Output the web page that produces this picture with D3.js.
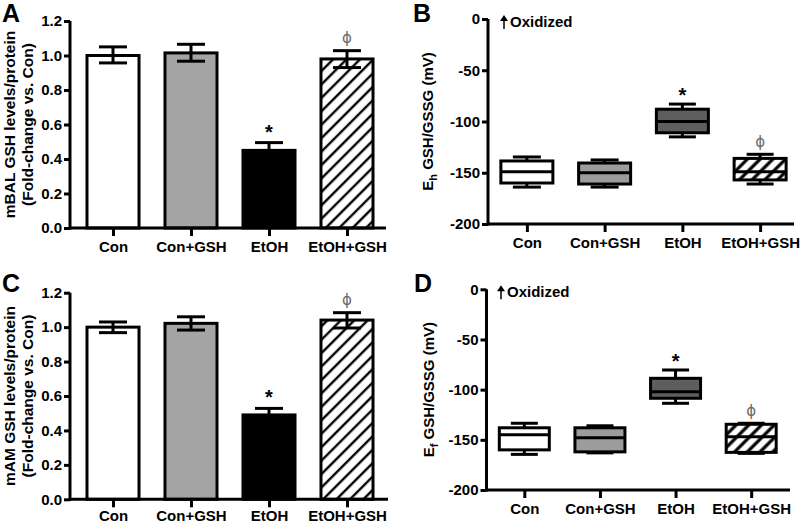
<!DOCTYPE html>
<html><head><meta charset="utf-8">
<script src="https://cdn.jsdelivr.net/npm/d3@7"></script>
<style>body{margin:0;background:#fff}svg{display:block;font-family:Arial,"Liberation Sans",sans-serif;font-weight:bold}</style>
</head><body><svg id="c" width="800" height="523"></svg>
<script>
const categories = ["Con","Con+GSH","EtOH","EtOH+GSH"];
// Panel A: mBAL GSH (fold change) mean, upper error, lower error
const barA_mean = [1.00, 1.015, 0.45, 0.98];
const barA_hi   = [1.05, 1.065, 0.495, 1.028];
const barA_lo   = [0.957, 0.967, null, 0.93];
// Panel C: mAM GSH
const barC_mean = [1.00, 1.022, 0.49, 1.041];
const barC_hi   = [1.03, 1.06, 0.528, 1.084];
const barC_lo   = [0.968, 0.983, null, 0.995];
// Panel B: Eh box stats [whiskerLow, Q1, median, Q3, whiskerHigh]
const boxB = [[-164,-160,-149,-138.5,-134.6],[-164,-161,-150,-140.5,-137.5],[-115,-111,-100,-88,-83],[-161,-157,-149,-136,-132]];
// Panel D
const boxD = [[-164.5,-160,-145,-138,-133.5],[-163,-162,-148,-138,-136],[-113.6,-108.6,-102,-88.7,-80.4],[-163.5,-162.5,-147,-134.5,-133.5]];
const barTicks = [0,0.2,0.4,0.6,0.8,1.0,1.2];
const boxTicks = [0,-50,-100,-150,-200];
const sigStar = [false,false,true,false];
const sigPhi = [false,false,false,true];

const fills = ["#ffffff","#a4a4a4","#000000","url(#hatchBar)"];
const boxFills = ["#ffffff","#9c9c9c","#5e5e5e","url(#hatchBox)"];

const svg = d3.select("#c");
const defs = svg.append("defs");
const pb = defs.append("pattern").attr("id","hatchBar").attr("patternUnits","userSpaceOnUse")
  .attr("width",9.5).attr("height",9.5).attr("patternTransform","rotate(45)");
pb.append("rect").attr("width",9.5).attr("height",9.5).attr("fill","#fff");
pb.append("line").attr("x1",2).attr("x2",2).attr("y1",0).attr("y2",9.5).attr("stroke","#000").attr("stroke-width",2.4);
const px = defs.append("pattern").attr("id","hatchBox").attr("patternUnits","userSpaceOnUse")
  .attr("width",9).attr("height",9).attr("patternTransform","rotate(45)");
px.append("rect").attr("width",9).attr("height",9).attr("fill","#fff");
px.append("line").attr("x1",2).attr("x2",2).attr("y1",0).attr("y2",9).attr("stroke","#000").attr("stroke-width",3.2);

function panelLabel(t,x,y){svg.append("text").attr("x",x).attr("y",y).attr("font-size",25).text(t);}

function phi(g,cx,cy){
  g.append("text").attr("x",cx).attr("y",cy).attr("text-anchor","middle").attr("font-size",15)
   .attr("font-weight","normal").attr("font-family","DejaVu Sans").attr("fill","#6a6a6a").text("ϕ");
}

function axes(g,x,y,x0,x1,ticks,fmt,pad){
  const ya = d3.axisLeft(y).tickValues(ticks).tickFormat(fmt).tickSize(6).tickPadding(2);
  const gy = g.append("g").attr("transform",`translate(${x0},0)`).call(ya);
  gy.select(".domain").remove();
  gy.append("line").attr("x1",0).attr("x2",0).attr("y1",y.range()[0]+1.5).attr("y2",y.range()[1]).attr("stroke","#000").attr("stroke-width",3);
  gy.selectAll(".tick line").attr("stroke-width",3);
  gy.selectAll(".tick text").attr("font-size",15).attr("font-weight","bold").attr("font-family","Arial, Liberation Sans").attr("fill","#000");
  const xa = d3.axisBottom(x).tickSize(8).tickPadding(pad);
  const gx = g.append("g").attr("transform",`translate(0,${y.range()[0]})`).call(xa);
  gx.select(".domain").remove();
  gx.append("line").attr("x1",x0).attr("x2",x1).attr("y1",0).attr("y2",0).attr("stroke","#000").attr("stroke-width",3);
  gx.selectAll(".tick line").attr("stroke-width",3);
  gx.selectAll(".tick text").attr("font-size",15).attr("font-weight","bold").attr("font-family","Arial, Liberation Sans").attr("fill","#000");
}

function barPanel(o){
  const g = svg.append("g");
  const y = d3.scaleLinear().domain([0,1.2]).range([o.y0,o.y1]);
  const x = d3.scalePoint().domain(categories).range([o.xr0,o.xr1]).padding(0.5);
  const bw = x.step()*0.667;
  const cw = 28;
  categories.forEach((c,i)=>{
    const cx = x(c);
    const hi=o.hi[i], lo=o.lo[i];
    const top=y(hi), bot= lo==null? y(o.mean[i]) : y(lo);
    g.append("line").attr("x1",cx).attr("x2",cx).attr("y1",top).attr("y2",bot).attr("stroke","#000").attr("stroke-width",3);
    g.append("rect").attr("x",cx-bw/2).attr("y",y(o.mean[i])).attr("width",bw).attr("height",y(0)-y(o.mean[i]))
      .attr("fill",fills[i]).attr("stroke","#000").attr("stroke-width",3);
    g.append("line").attr("x1",cx-cw/2).attr("x2",cx+cw/2).attr("y1",top).attr("y2",top).attr("stroke","#000").attr("stroke-width",3);
    if(lo!=null){
      g.append("line").attr("x1",cx).attr("x2",cx).attr("y1",y(o.mean[i])).attr("y2",bot).attr("stroke","#000").attr("stroke-width",3);
      g.append("line").attr("x1",cx-cw/2).attr("x2",cx+cw/2).attr("y1",bot).attr("y2",bot).attr("stroke","#000").attr("stroke-width",3);
    }
    if(sigStar[i]) g.append("text").attr("x",cx).attr("y",top-4).attr("text-anchor","middle").attr("font-size",20).text("*");
    if(sigPhi[i]) phi(g,cx,top-8);
  });
  axes(g,x,y,o.ax,o.axEnd,barTicks,d3.format(".1f"),o.pad);
  const cy=(o.y0+o.y1)/2;
  const t = g.append("text").attr("transform",`translate(${o.lx},${cy}) rotate(-90)`).attr("text-anchor","middle").attr("font-size",15.5);
  t.append("tspan").attr("x",0).attr("dy",0).text(o.l1);
  t.append("tspan").attr("x",0).attr("dy",18).text("(Fold-change vs. Con)");
}

function boxPanel(o){
  const g = svg.append("g");
  const y = d3.scaleLinear().domain([-200,0]).range([o.y0,o.y1]);
  const x = d3.scalePoint().domain(categories).range([o.xr0,o.xr1]).padding(0.5);
  const bw = o.bw, cw = o.cw;
  categories.forEach((c,i)=>{
    const cx=x(c), s=o.data[i];
    g.append("line").attr("x1",cx).attr("x2",cx).attr("y1",y(s[0])).attr("y2",y(s[4])).attr("stroke","#000").attr("stroke-width",3);
    [s[0],s[4]].forEach(v=>g.append("line").attr("x1",cx-cw[i]/2).attr("x2",cx+cw[i]/2).attr("y1",y(v)).attr("y2",y(v)).attr("stroke","#000").attr("stroke-width",3));
    g.append("rect").attr("x",cx-bw/2).attr("y",y(s[3])).attr("width",bw).attr("height",y(s[1])-y(s[3]))
      .attr("fill",boxFills[i]).attr("stroke","#000").attr("stroke-width",3);
    g.append("line").attr("x1",cx-bw/2).attr("x2",cx+bw/2).attr("y1",y(s[2])).attr("y2",y(s[2])).attr("stroke","#000").attr("stroke-width",3);
    if(sigStar[i]) g.append("text").attr("x",cx).attr("y",y(s[4])-2).attr("text-anchor","middle").attr("font-size",20).text("*");
    if(sigPhi[i]) phi(g,cx,y(s[4])-7);
  });
  axes(g,x,y,o.ax,o.axEnd,boxTicks,d=>String(d),o.pad);
  const ay=y(0);
  g.append("line").attr("x1",o.arx).attr("x2",o.arx).attr("y1",ay+10).attr("y2",ay-1).attr("stroke","#000").attr("stroke-width",1.5);
  g.append("path").attr("d",`M${o.arx-4},${ay+2}L${o.arx},${ay-4}L${o.arx+4},${ay+2}Z`).attr("fill","#000");
  g.append("text").attr("x",o.arx+6).attr("y",ay+8).attr("font-size",15).text("Oxidized");
  const cy=(o.y0+o.y1)/2;
  const t = g.append("text").attr("transform",`translate(${o.lx},${cy}) rotate(-90)`).attr("text-anchor","middle").attr("font-size",15);
  t.append("tspan").text("E");
  t.append("tspan").attr("font-size",11).attr("dy",4).text(o.sub);
  t.append("tspan").attr("dy",-4).text(" GSH/GSSG (mV)");
}

barPanel({y0:228,y1:21,xr0:74,xr1:386,ax:70,axEnd:386,mean:barA_mean,hi:barA_hi,lo:barA_lo,lx:15,l1:"mBAL GSH levels/protein",pad:5});
barPanel({y0:499.3,y1:292.7,xr0:74,xr1:386,ax:70,axEnd:388,mean:barC_mean,hi:barC_hi,lo:barC_lo,lx:15,l1:"mAM GSH levels/protein",pad:3});
boxPanel({y0:224,y1:19,xr0:488,xr1:799,ax:488,axEnd:794,data:boxB,bw:52,cw:[28,28,27,27],arx:504,lx:433,sub:"h",pad:5});
boxPanel({y0:490,y1:289.3,xr0:486.5,xr1:789,ax:486.5,axEnd:790,data:boxD,bw:50,cw:[27,27,27,27],arx:501,lx:434,sub:"f",pad:5});

panelLabel("A",2,22);
panelLabel("B",413,22);
panelLabel("C",2,292);
panelLabel("D",414,292);
</script></body></html>
